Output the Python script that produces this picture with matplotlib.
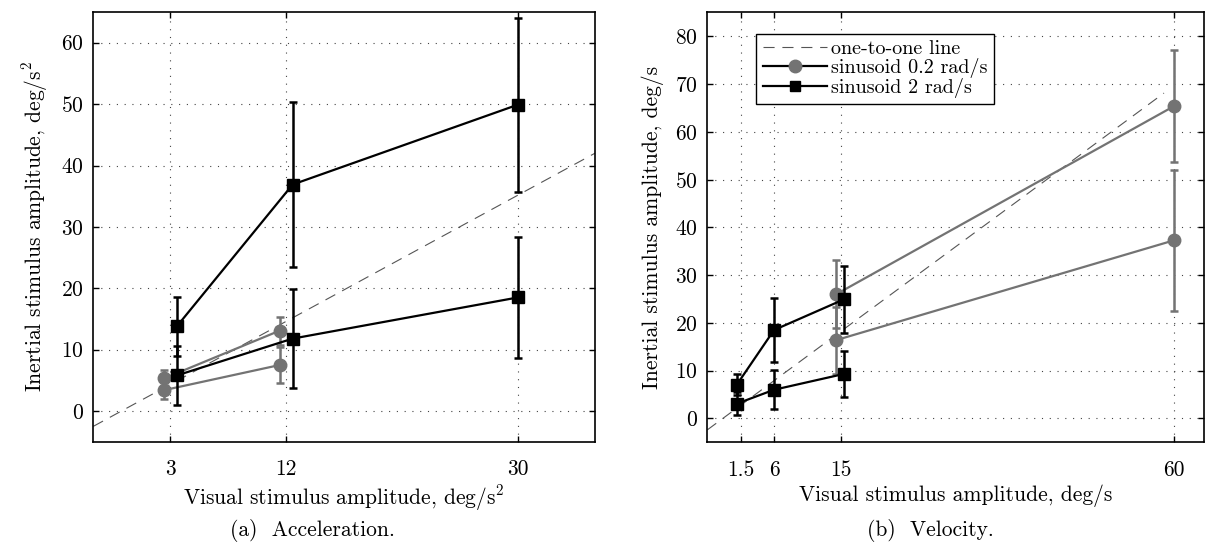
import numpy as np
import matplotlib
matplotlib.use('Agg')
import matplotlib.pyplot as plt
from matplotlib.lines import Line2D

# ---- (a) acceleration ----
acc_ticks = [3, 12, 30]
acc_sq_x = [3.5, 12.5, 30]
acc_sq_hi = [13.8, 36.9, 49.9]
acc_sq_hi_err = [4.8, 13.45, 14.2]
acc_sq_lo = [5.8, 11.8, 18.5]
acc_sq_lo_err = [4.8, 8.1, 9.9]
acc_ci_x = [2.5, 11.5]
acc_ci_hi = [5.3, 13.1]
acc_ci_hi_err = [1.4, 2.3]
acc_ci_lo = [3.4, 7.5]
acc_ci_lo_err = [1.5, 3.0]
acc_ref_x = [-3, 36]
acc_ref_y = [-2.5, 42.0]

# ---- (b) velocity ----
vel_ticks = [1.5, 6, 15, 60]
vel_sq_x = [1.0, 6.0, 15.4]
vel_sq_hi = [7.1, 18.5, 24.9]
vel_sq_hi_err = [2.3, 6.7, 7.0]
vel_sq_lo = [3.1, 6.0, 9.3]
vel_sq_lo_err = [2.4, 4.1, 4.9]
vel_ci_x = [14.4, 60]
vel_ci_hi = [26.0, 65.4]
vel_ci_hi_err = [7.1, 11.7]
vel_ci_lo = [16.4, 37.3]
vel_ci_lo_err = [7.0, 14.8]
vel_ref_x = [-3, 58.6]
vel_ref_y = [-2.4, 68.1]

GRAY = '#737373'
FS = 15.5

plt.rcParams['font.family'] = ['cmr10', 'DejaVu Serif']
plt.rcParams['mathtext.fontset'] = 'cm'
plt.rcParams['axes.formatter.use_mathtext'] = True


def style_axes(ax, xticks, yticks, xlim, ylim):
    ax.set_xlim(xlim)
    ax.set_ylim(ylim)
    ax.set_xticks(xticks)
    ax.set_xticklabels([('%g' % t) for t in xticks])
    ax.set_yticks(yticks)
    ax.tick_params(direction='in', top=True, right=True, length=4, width=1,
                   labelsize=FS)
    ax.tick_params(axis='x', pad=13)
    ax.tick_params(axis='y', pad=7)
    ax.grid(True, color='#444444', linestyle=(0, (1, 6)), linewidth=0.8)
    for s in ax.spines.values():
        s.set_linewidth(1.2)


def series(ax, x, y, err, color, marker, ms, z):
    ax.errorbar(x, y, yerr=err, color=color, marker=marker, ms=ms,
                mfc=color, mec=color, lw=1.6, elinewidth=1.8, capsize=3,
                capthick=1.8, zorder=z)


fig = plt.figure(figsize=(12.08, 5.45), dpi=100)

# left panel
ax1 = fig.add_axes([0.0772, 0.1895, 0.4153, 0.7884])
ax1.plot(acc_ref_x, acc_ref_y, color='#555555', lw=0.8, dashes=(10, 7), zorder=2)
series(ax1, acc_ci_x, acc_ci_hi, acc_ci_hi_err, GRAY, 'o', 9, 3)
series(ax1, acc_ci_x, acc_ci_lo, acc_ci_lo_err, GRAY, 'o', 9, 3)
series(ax1, acc_sq_x, acc_sq_hi, acc_sq_hi_err, 'black', 's', 8, 4)
series(ax1, acc_sq_x, acc_sq_lo, acc_sq_lo_err, 'black', 's', 8, 4)
style_axes(ax1, acc_ticks, np.arange(0, 61, 10), (-3, 36), (-5, 65))
ax1.set_xlabel('Visual stimulus amplitude, deg/s$^2$', fontsize=FS, labelpad=3)
ax1.set_ylabel('Inertial stimulus amplitude, deg/s$^2$', fontsize=FS, labelpad=8)

# right panel
ax2 = fig.add_axes([0.5855, 0.1884, 0.4112, 0.789])
ax2.plot(vel_ref_x, vel_ref_y, color='#555555', lw=0.8, dashes=(10, 7), zorder=2)
series(ax2, vel_ci_x, vel_ci_hi, vel_ci_hi_err, GRAY, 'o', 9, 3)
series(ax2, vel_ci_x, vel_ci_lo, vel_ci_lo_err, GRAY, 'o', 9, 3)
series(ax2, vel_sq_x, vel_sq_hi, vel_sq_hi_err, 'black', 's', 8, 4)
series(ax2, vel_sq_x, vel_sq_lo, vel_sq_lo_err, 'black', 's', 8, 4)
style_axes(ax2, vel_ticks, np.arange(0, 81, 10), (-3, 64), (-5, 85))
ax2.set_xlabel('Visual stimulus amplitude, deg/s', fontsize=FS, labelpad=3)
ax2.set_ylabel('Inertial stimulus amplitude, deg/s', fontsize=FS, labelpad=8)

handles = [
    Line2D([], [], color='#555555', lw=0.8, dashes=(10, 7)),
    Line2D([], [], color='black', lw=1.6, marker='o', ms=9, mfc=GRAY, mec=GRAY),
    Line2D([], [], color='black', lw=1.6, marker='s', ms=7, mfc='black'),
]
labels = ['one-to-one line', 'sinusoid 0.2 rad/s', 'sinusoid 2 rad/s']
leg = ax2.legend(handles, labels, loc='upper left', bbox_to_anchor=(0.099, 0.95),
                 fontsize=14.5, frameon=True, fancybox=False, framealpha=1,
                 edgecolor='black', labelspacing=0.0, handlelength=3.2,
                 handletextpad=0.2, borderpad=0.3, borderaxespad=0)
leg.get_frame().set_linewidth(1.0)

fig.text(312 / 1208, 1 - 530 / 545, '(a)  Acceleration.', ha='center', va='center', fontsize=FS)
fig.text(930 / 1208, 1 - 530 / 545, '(b)  Velocity.', ha='center', va='center', fontsize=FS)

fig.savefig('out.png', dpi=100)
